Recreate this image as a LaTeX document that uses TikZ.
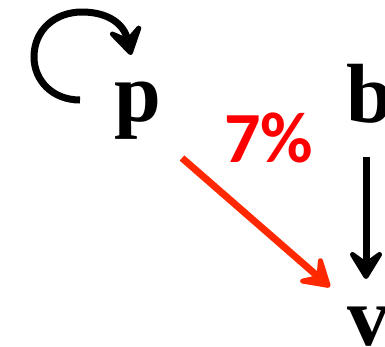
\documentclass[tikz,border=0pt]{standalone}
\usepackage{fontspec}
\setmainfont{Liberation Serif}
\newfontfamily\calfont{Carlito}
\usetikzlibrary{arrows.meta}
\definecolor{arrred}{RGB}{255,40,0}
\begin{document}
\begin{tikzpicture}[x=1pt,y=-1pt,
  lbl/.style={inner sep=0pt,anchor=base west,font=\fontsize{84}{84}\selectfont\bfseries},
  pct/.style={inner sep=0pt,anchor=base west,text=red,font=\calfont\fontsize{72}{72}\selectfont\bfseries},
  conn/.style={line width=7pt,-{Stealth[length=36pt,width=44pt,inset=16pt,round]}}]
\useasboundingbox (0,0) rectangle (385,346);
\node[lbl] (p) at (114,121) {p};
\node[lbl] (b) at (346,122) {b};
\node[lbl] (v) at (347,345) {v};
\node[pct] (pc) at (224,162) {7\%};
\coordinate (r1) at (182,158);
\coordinate (r2) at (330,287);
\coordinate (b1) at (366,157);
\coordinate (b2) at (366,279);
\coordinate (l1) at (80,100);
\coordinate (l2) at (131,55);
\draw[conn,draw=arrred,fill=arrred] (r1) -- (r2);
\draw[conn] (b1) -- (b2);
\draw[conn] (l1) .. controls (52,100) and (34,80) .. (34,57)
  .. controls (34,30) and (55,12) .. (82,12)
  .. controls (108,12) and (124,24) .. (l2);
\end{tikzpicture}
\end{document}
